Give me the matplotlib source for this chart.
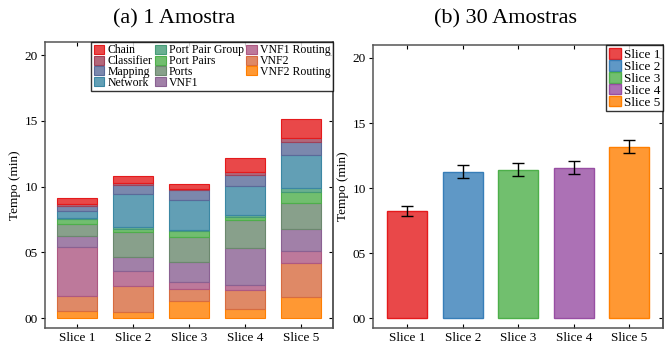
import matplotlib
matplotlib.use("Agg")
import matplotlib.pyplot as plt
import numpy as np
from matplotlib.colors import LinearSegmentedColormap, to_rgb

plt.rcParams["font.family"] = ["Liberation Serif", "DejaVu Serif"]

slices = ["Slice 1", "Slice 2", "Slice 3", "Slice 4", "Slice 5"]

# (a) one sample: stacked components, bottom to top
components = ["VNF2 Routing", "VNF2", "VNF1 Routing", "VNF1", "Ports", "Port Pairs",
              "Port Pair Group", "Network", "Mapping", "Classifier", "Chain"]
vnf2_routing = [0.51, 0.48, 1.34, 0.68, 1.57]
vnf2 = [1.21, 1.93, 0.91, 1.45, 2.66]
vnf1_routing = [3.70, 1.18, 0.53, 0.38, 0.88]
vnf1 = [0.83, 1.07, 1.47, 2.81, 1.70]
ports = [0.94, 1.90, 1.90, 2.15, 1.97]
port_pairs = [0.33, 0.20, 0.46, 0.25, 0.84]
port_pair_group = [0.13, 0.20, 0.12, 0.15, 0.25]
network = [0.53, 2.46, 2.28, 2.16, 2.56]
mapping = [0.38, 0.71, 0.71, 0.88, 0.99]
classifier = [0.15, 0.15, 0.13, 0.20, 0.25]
chain = [0.45, 0.53, 0.33, 1.09, 1.44]
stack = [vnf2_routing, vnf2, vnf1_routing, vnf1, ports, port_pairs,
         port_pair_group, network, mapping, classifier, chain]

# (b) 30 samples: mean and error
mean_30 = [8.25, 11.26, 11.42, 11.57, 13.18]
err_30 = [0.37, 0.51, 0.51, 0.52, 0.52]

set1 = ["#e41a1c", "#377eb8", "#4daf4a", "#984ea3", "#ff7f00"]
cmap = LinearSegmentedColormap.from_list("set1_blend", set1)
alpha = 0.8
spine_col = "#555555"


def style_axis(ax):
    for s in ax.spines.values():
        s.set_color(spine_col)
        s.set_linewidth(1.1)
    ax.set_ylim(-0.75, 21)
    ax.set_yticks([0, 5, 10, 15, 20])
    ax.set_yticklabels(["00", "05", "10", "15", "20"])
    ax.tick_params(axis="y", direction="out", length=3, width=0.8, labelsize=9.5, pad=2)
    ax.tick_params(axis="x", direction="in", length=3, width=0.8, top=True,
                   labelsize=9.5, pad=3)
    sec = ax.secondary_yaxis("right")
    sec.set_yticks([0, 5, 10, 15, 20])
    sec.tick_params(direction="in", length=3, width=0.8, labelright=False)
    sec.spines["right"].set_color(spine_col)
    sec.spines["right"].set_linewidth(1.1)
    ax.set_ylabel("Tempo (min)", fontsize=9.5, labelpad=3)


fig = plt.figure(figsize=(6.7, 3.5), dpi=100)
ax1 = fig.add_axes([0.0672, 0.0629, 0.4299, 0.8171])
ax2 = fig.add_axes([0.5567, 0.0629, 0.4328, 0.8086])

x = np.arange(len(slices))
width = 0.72

# stacked bars
bottom = np.zeros(len(slices))
handles = {}
for i, (name, vals) in enumerate(zip(components, stack)):
    c = to_rgb(cmap(1 - i / (len(components) - 1)))
    b = ax1.bar(x, vals, width, bottom=bottom, color=(*c, alpha),
                edgecolor=c, linewidth=0.8, label=name)
    handles[name] = b
    bottom += np.array(vals)

legend_order = sorted(components)
ax1.legend([handles[n] for n in legend_order], legend_order, ncol=3,
           loc="upper right", bbox_to_anchor=(1, 1), borderaxespad=0,
           fontsize=8.5, frameon=True, fancybox=False, edgecolor="black",
           handlelength=0.9, handleheight=0.8, handletextpad=0.25,
           columnspacing=0.25, labelspacing=-0.1, borderpad=0.2)
ax1.legend_.get_frame().set_linewidth(1.0)
ax1.set_xticks(x)
ax1.set_xticklabels(slices)
ax1.set_xlim(-0.58, 4.58)
style_axis(ax1)

# mean bars with error
for i in range(len(slices)):
    c = to_rgb(set1[i])
    ax2.bar(x[i], mean_30[i], width, color=(*c, alpha), edgecolor=c,
            linewidth=1.0, label=slices[i])
ax2.errorbar(x, mean_30, yerr=err_30, fmt="none", ecolor="black",
             elinewidth=1.0, capsize=4.3, capthick=1.0)
ax2.legend(loc="upper right", bbox_to_anchor=(1, 1), borderaxespad=0,
           fontsize=9.5, frameon=True, fancybox=False, edgecolor="black",
           handlelength=0.9, handleheight=0.9, handletextpad=0.25,
           labelspacing=-0.08, borderpad=0.2)
ax2.legend_.get_frame().set_linewidth(1.0)
ax2.set_xticks(x)
ax2.set_xticklabels(slices)
ax2.set_xlim(-0.62, 4.61)
style_axis(ax2)

fig.text(174 / 670, 1 - 19 / 350, "(a) 1 Amostra", ha="center", va="center", fontsize=16)
fig.text(506 / 670, 1 - 19 / 350, "(b) 30 Amostras", ha="center", va="center", fontsize=16)

plt.savefig("out.png", dpi=100)
